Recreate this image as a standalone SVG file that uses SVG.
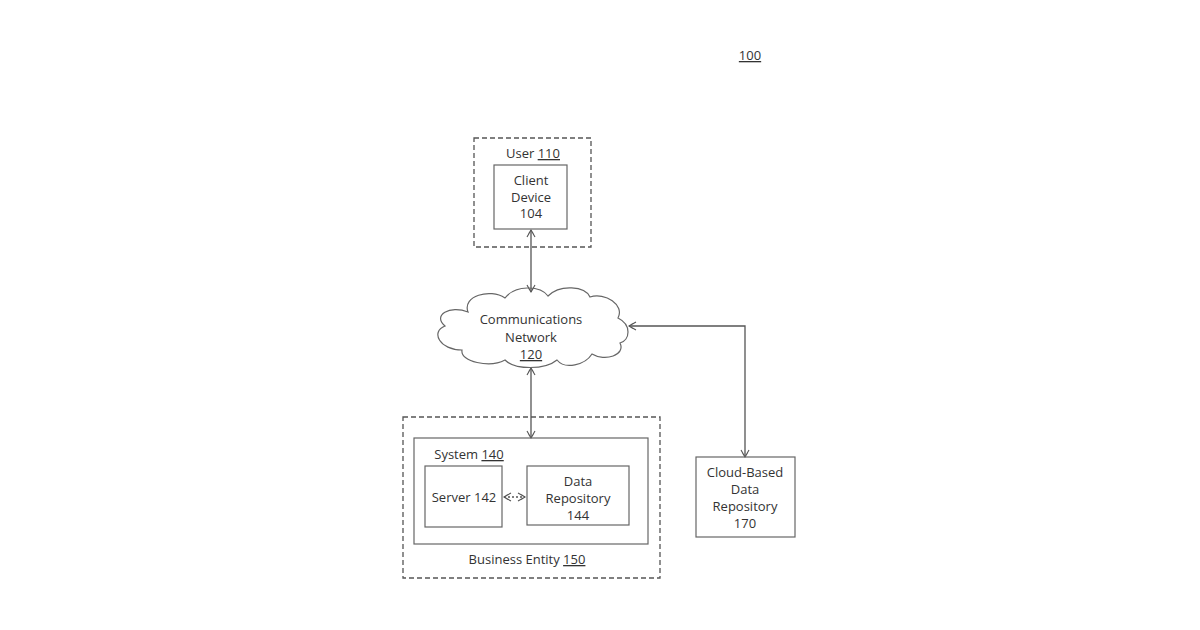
<svg xmlns="http://www.w3.org/2000/svg" width="1200" height="630" viewBox="0 0 1200 630">
<defs>
<style>
.t{font-family:"Open Sans","Liberation Sans",sans-serif;font-size:13px;fill:#333;text-anchor:middle}
.dash{fill:none;stroke:#555;stroke-width:1.3;stroke-dasharray:5,3}
.box{fill:none;stroke:#666;stroke-width:1.2}
.ln{fill:none;stroke:#555;stroke-width:1.3}
</style>
<marker id="a" markerWidth="10" markerHeight="10" refX="8" refY="5" orient="auto-start-reverse" markerUnits="userSpaceOnUse">
<path d="M1,1 L8,5 L1,9 M4,2.5 L8,5 L4,7.5" fill="none" stroke="#555" stroke-width="1.1"/>
</marker>
</defs>
<rect width="1200" height="630" fill="#fff"/>
<text class="t" x="750" y="60" text-decoration="underline">100</text>
<g id="connectors">
<line class="ln" x1="531" y1="230" x2="531" y2="292" marker-start="url(#a)" marker-end="url(#a)"/>
<line class="ln" x1="531" y1="368" x2="531" y2="438" marker-start="url(#a)" marker-end="url(#a)"/>
<polyline class="ln" points="629,326 745,326 745,457" marker-start="url(#a)" marker-end="url(#a)"/>
<line class="ln" x1="504" y1="497" x2="525" y2="497" stroke-dasharray="2,2" marker-start="url(#a)" marker-end="url(#a)"/>
</g>
<g id="user110">
<rect class="dash" x="474" y="138" width="117" height="109"/>
<text class="t" x="533" y="158">User <tspan text-decoration="underline">110</tspan></text>
</g>
<g id="client104">
<rect class="box" x="494" y="165" width="73" height="64"/>
<text class="t" x="531" y="185">Client</text>
<text class="t" x="531" y="202">Device</text>
<text class="t" x="531" y="218">104</text>
</g>
<g id="network120">
<path class="box" d="M468,312 C462,296 490,288 505,298 C515,285 540,285 548,296 C560,284 585,286 590,297 C605,292 625,305 618,318 C632,325 630,340 620,343 C626,355 605,362 592,354 C585,365 565,370 557,360 C545,370 515,370 505,360 C490,368 460,362 462,350 C440,350 430,332 445,326 C432,315 450,305 468,312 Z"/>
<text class="t" x="531" y="324" font-size="14.5">Communications</text>
<text class="t" x="531" y="342" font-size="14.5">Network</text>
<text class="t" x="531" y="359" font-size="14.5" text-decoration="underline">120</text>
</g>
<g id="business150">
<rect class="dash" x="403" y="417" width="257" height="161"/>
<text class="t" x="527" y="564">Business Entity <tspan text-decoration="underline">150</tspan></text>
</g>
<g id="system140">
<rect class="box" x="414" y="438" width="234" height="106"/>
<text class="t" x="469" y="459">System <tspan text-decoration="underline">140</tspan></text>
</g>
<g id="server142">
<rect class="box" x="425" y="466" width="77" height="61"/>
<text class="t" x="464" y="502">Server 142</text>
</g>
<g id="repo144">
<rect class="box" x="527" y="466" width="102" height="59"/>
<text class="t" x="578" y="486">Data</text>
<text class="t" x="578" y="503">Repository</text>
<text class="t" x="578" y="520">144</text>
</g>
<g id="cloudrepo170">
<rect class="box" x="696" y="457" width="99" height="80"/>
<text class="t" x="745" y="477">Cloud-Based</text>
<text class="t" x="745" y="494">Data</text>
<text class="t" x="745" y="511">Repository</text>
<text class="t" x="745" y="528">170</text>
</g>
</svg>
